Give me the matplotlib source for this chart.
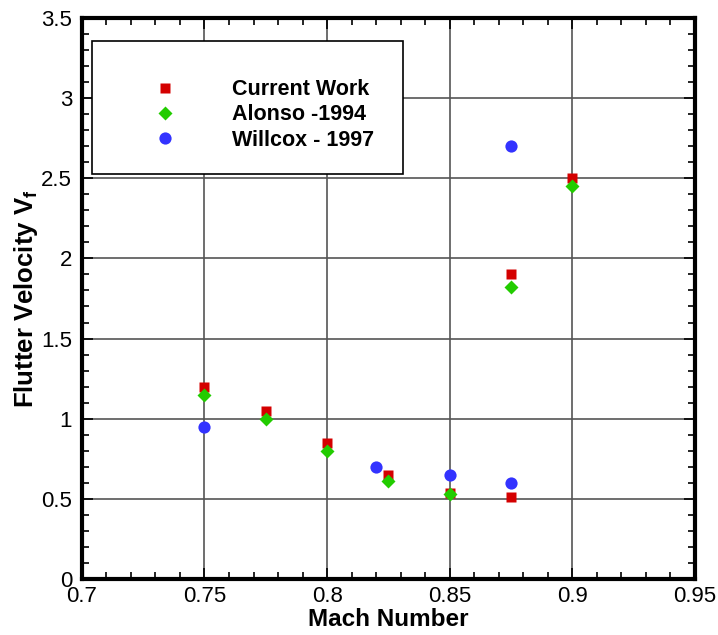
import matplotlib
matplotlib.use('Agg')
import matplotlib.pyplot as plt
from matplotlib.patches import Rectangle
from matplotlib.ticker import MultipleLocator

plt.rcParams['font.family'] = ['Liberation Sans', 'DejaVu Sans']
plt.rcParams['mathtext.fontset'] = 'custom'
plt.rcParams['mathtext.rm'] = 'Liberation Sans:bold'
plt.rcParams['mathtext.bf'] = 'Liberation Sans:bold'

# flutter velocity vs mach number
mach_current = [0.75, 0.775, 0.8, 0.825, 0.85, 0.875, 0.875, 0.9]
vf_current = [1.2, 1.05, 0.85, 0.65, 0.54, 0.51, 1.9, 2.5]

mach_alonso = [0.75, 0.775, 0.8, 0.825, 0.85, 0.875, 0.9]
vf_alonso = [1.15, 1.0, 0.8, 0.61, 0.53, 1.82, 2.45]

mach_willcox = [0.75, 0.82, 0.85, 0.875, 0.875]
vf_willcox = [0.95, 0.7, 0.65, 0.6, 2.7]

xticks = [0.7, 0.75, 0.8, 0.85, 0.9, 0.95]
xticklabels = ['0.7', '0.75', '0.8', '0.85', '0.9', '0.95']
yticks = [0, 0.5, 1, 1.5, 2, 2.5, 3, 3.5]
yticklabels = ['0', '0.5', '1', '1.5', '2', '2.5', '3', '3.5']

fig = plt.figure(figsize=(7.18, 6.35), dpi=100)
ax = fig.add_axes([0.114, 0.088, 0.854, 0.884])

ax.plot(mach_current, vf_current, 's', color='#d40000', ms=6.5, mec='none',
        label='Current Work', zorder=4)
ax.plot(mach_alonso, vf_alonso, 'D', color='#22cc00', ms=7.5, mec='none',
        label='Alonso -1994', zorder=4)
ax.plot(mach_willcox, vf_willcox, 'o', color='#3333ff', ms=8.8, mec='none',
        label='Willcox - 1997', zorder=4)

ax.set_xticks(xticks)
ax.set_xticklabels(xticklabels)
ax.set_yticks(yticks)
ax.set_yticklabels(yticklabels)
ax.xaxis.set_minor_locator(MultipleLocator(0.01))
ax.yaxis.set_minor_locator(MultipleLocator(0.1))
ax.set_xlim(0.7, 0.95)
ax.set_ylim(0, 3.5)

ax.grid(True, which='major', color='#555555', lw=1.2)
ax.tick_params(which='both', direction='in', top=True, right=True,
               labelsize=16, width=1.2)
ax.tick_params(which='major', length=8)
ax.tick_params(which='minor', length=5)
ax.tick_params(axis='x', pad=5)
ax.tick_params(axis='y', pad=7)
for s in ax.spines.values():
    s.set_linewidth(3)

ax.set_xlabel('Mach Number', fontsize=17.5, fontweight='bold', labelpad=0.5)
ax.set_ylabel(r'Flutter Velocity V$_{\mathbf{f}}$', fontsize=18.5,
              fontweight='bold', labelpad=1)

# legend box
box = Rectangle((0.016, 0.722), 0.508, 0.237, transform=ax.transAxes,
                facecolor='white', edgecolor='black', lw=1.2, zorder=5)
ax.add_patch(box)
leg = ax.legend(loc='center', bbox_to_anchor=(0.297, 0.827), frameon=False,
                prop={'weight': 'bold', 'size': 15.5},
                handletextpad=2.6, labelspacing=0.2, handlelength=1)
leg.set_zorder(6)

fig.savefig('out.png', dpi=100)
